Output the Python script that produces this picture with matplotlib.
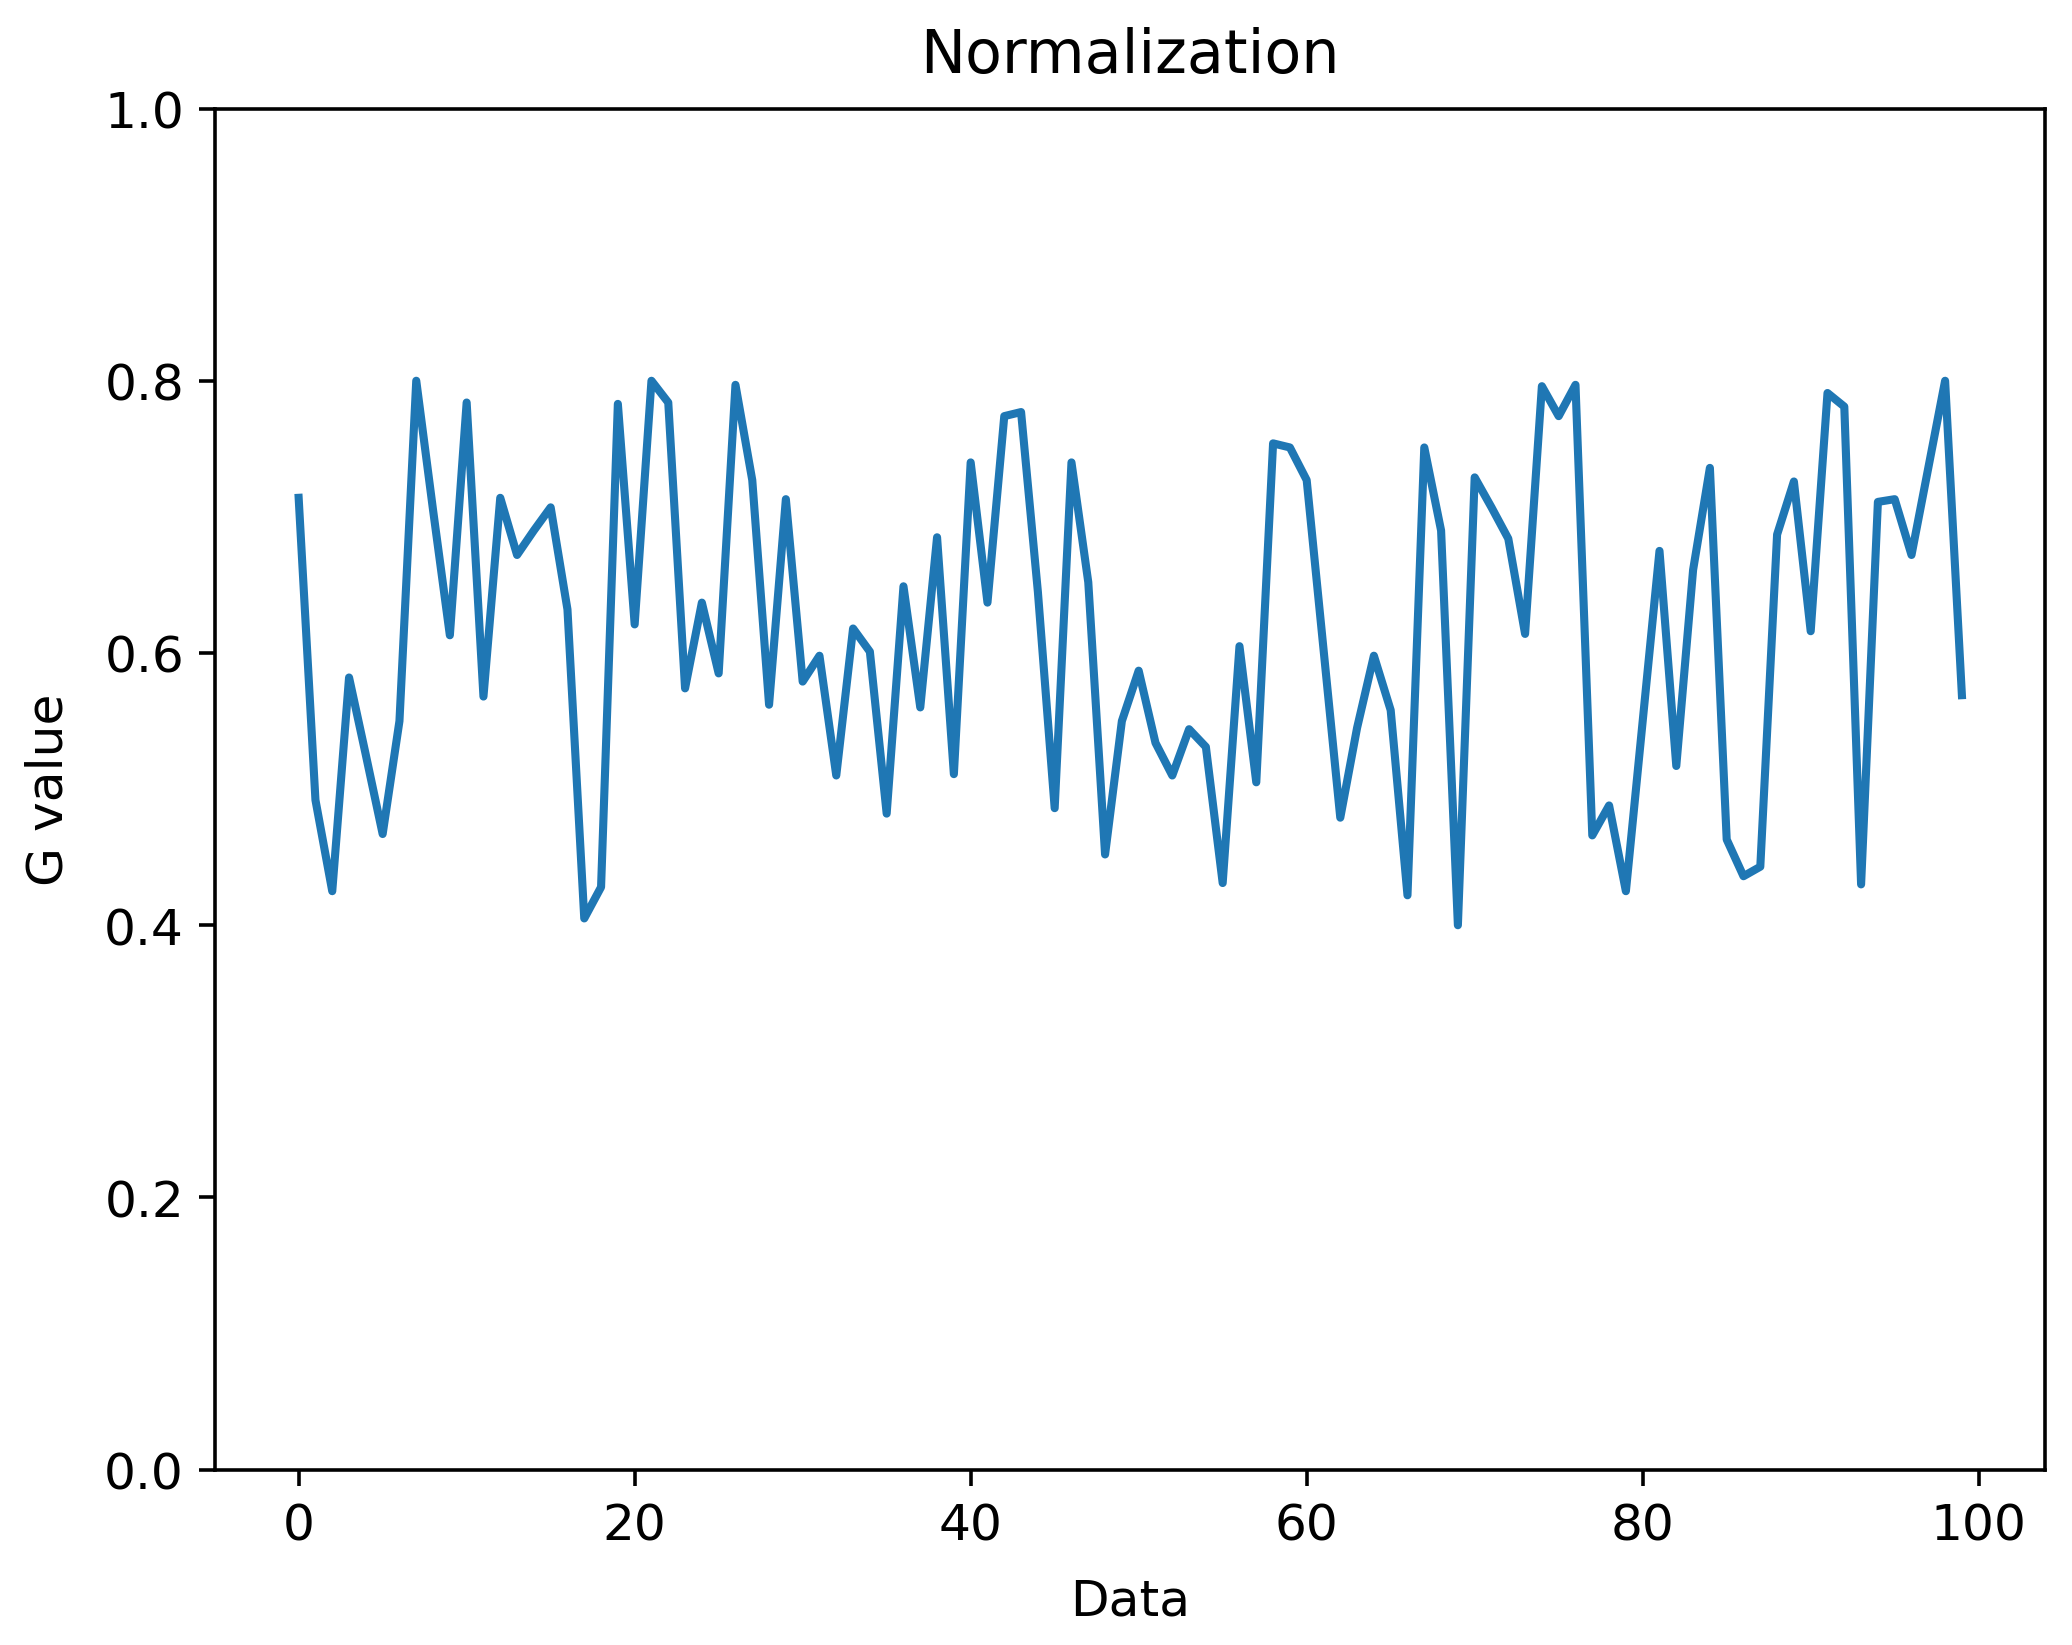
import numpy as np
import matplotlib
matplotlib.use("Agg")
import matplotlib.pyplot as plt

# G values, one per data index 0..99
g_values = [
    0.714, 0.492, 0.425, 0.582, 0.525, 0.467, 0.550, 0.800, 0.705, 0.613,
    0.784, 0.568, 0.714, 0.672, 0.690, 0.707, 0.632, 0.405, 0.428, 0.783,
    0.621, 0.800, 0.784, 0.574, 0.637, 0.585, 0.797, 0.727, 0.562, 0.713,
    0.579, 0.598, 0.510, 0.618, 0.601, 0.482, 0.649, 0.560, 0.685, 0.511,
    0.740, 0.637, 0.774, 0.777, 0.645, 0.486, 0.740, 0.652, 0.452, 0.550,
    0.587, 0.534, 0.510, 0.544, 0.531, 0.431, 0.605, 0.505, 0.754, 0.751,
    0.727, 0.603, 0.479, 0.545, 0.598, 0.558, 0.422, 0.751, 0.690, 0.400,
    0.729, 0.707, 0.684, 0.614, 0.796, 0.774, 0.797, 0.466, 0.488, 0.425,
    0.550, 0.675, 0.517, 0.661, 0.736, 0.463, 0.436, 0.443, 0.687, 0.726,
    0.616, 0.791, 0.781, 0.430, 0.711, 0.713, 0.672, 0.736, 0.800, 0.569,
]
data_idx = np.arange(len(g_values))

# reference text runs a bit larger than matplotlib defaults
plt.rcParams['font.size'] = 11.2

# figure sized to match 2072x1646 output
fig = plt.figure(figsize=(6.4, 5.084), dpi=323.75)
ax = fig.add_axes([0.104, 0.1065, 0.883, 0.827])

ax.plot(data_idx, g_values, lw=1.8)
ax.set_ylim(0, 1)
ax.set_title("Normalization", pad=8)
ax.set_xlabel("Data", labelpad=6)
ax.set_ylabel("G value", labelpad=7)

fig.savefig("out.png", dpi=323.75)
